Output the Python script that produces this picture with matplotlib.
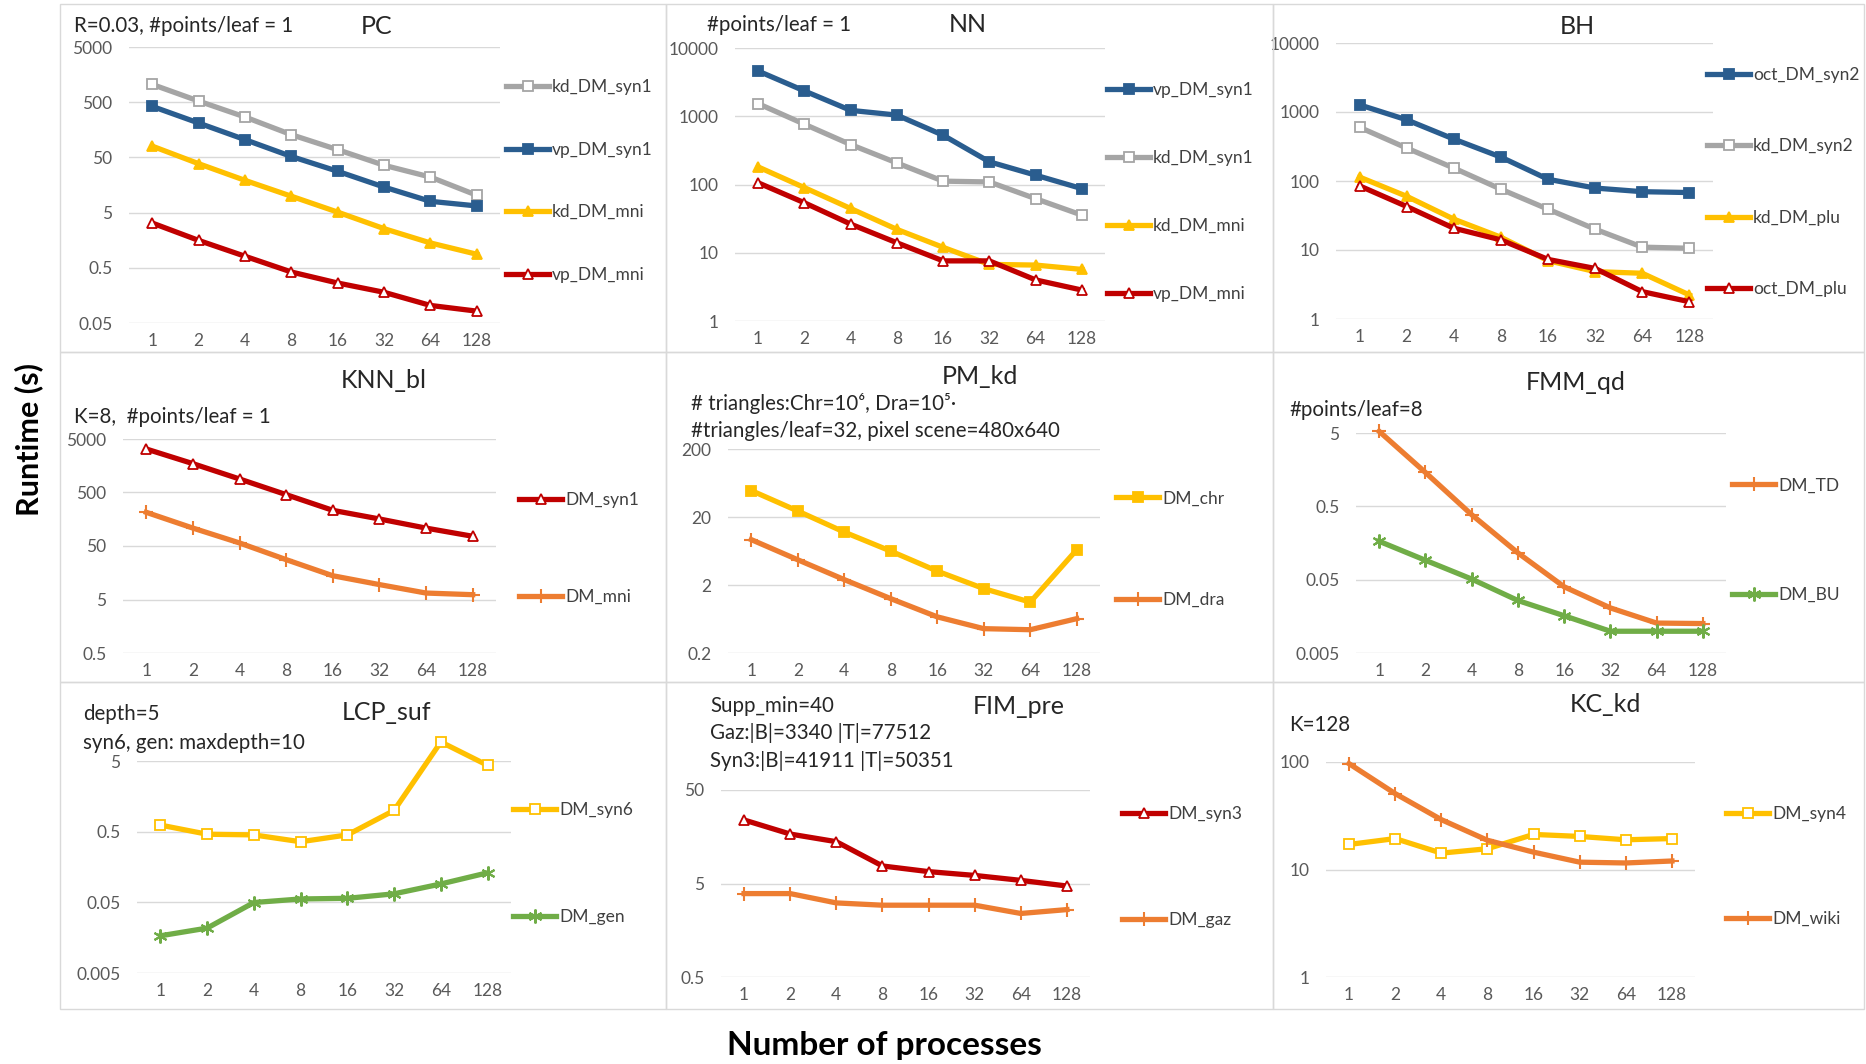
# -*- coding: utf-8 -*-
"""Runtime vs. number of processes, 3x3 panels with log y axes."""

import matplotlib
matplotlib.use('Agg')
import matplotlib.pyplot as plt
from matplotlib.patches import Rectangle
from matplotlib.ticker import NullLocator

plt.rcParams['font.family'] = ['Lato', 'DejaVu Sans']

# Figure size in pixels:
varW = 1866.0
varH = 1064.0
varDpi = 100.0

# Shared category axis:
lstXlbl = ['1', '2', '4', '8', '16', '32', '64', '128']

# --- Data (seconds) ---
pc_kd_syn1 = [1050, 525, 270, 129, 69, 36, 22, 10.3]
pc_vp_syn1 = [420, 210, 105, 52, 28, 14.5, 8.0, 6.6]
pc_kd_mni = [80, 38.5, 19.2, 9.9, 5.1, 2.56, 1.41, 0.88]
pc_vp_mni = [3.24, 1.57, 0.81, 0.42, 0.265, 0.18, 0.104, 0.082]

nn_vp_syn1 = [4600, 2350, 1220, 1040, 527, 215, 137, 87]
nn_kd_syn1 = [1530, 765, 385, 207, 112, 109, 62, 35.6]
nn_kd_mni = [181, 90, 44.5, 22, 12, 6.75, 6.6, 5.7]
nn_vp_mni = [106, 54, 26.3, 14, 7.6, 7.6, 4.0, 2.84]

bh_oct_syn2 = [1270, 770, 405, 222, 106, 79, 70, 68]
bh_kd_syn2 = [600, 300, 154, 76, 39, 20, 11, 10.6]
bh_kd_plu = [114, 60, 28, 15.3, 7.0, 4.86, 4.6, 2.23]
bh_oct_plu = [85, 42.7, 20.7, 14, 7.3, 5.4, 2.49, 1.78]

knn_syn1 = [3250, 1730, 894, 456, 232, 160, 108, 76]
knn_mni = [213, 108, 57, 27.8, 13.9, 9.5, 6.6, 6.15]

pm_chr = [49, 24.5, 12, 6.3, 3.2, 1.77, 1.12, 6.6]
pm_dra = [9.3, 4.7, 2.4, 1.26, 0.68, 0.456, 0.44, 0.64]

fmm_td = [5.27, 1.45, 0.385, 0.116, 0.040, 0.0206, 0.0128, 0.0126]
fmm_bu = [0.167, 0.092, 0.051, 0.026, 0.0161, 0.0099, 0.0099, 0.0099]

lcp_syn6 = [0.62, 0.46, 0.45, 0.36, 0.45, 1.0, 9.3, 4.34]
lcp_gen = [0.0168, 0.0216, 0.0497, 0.0558, 0.057, 0.066, 0.091, 0.131]

fim_syn3 = [23.9, 16.9, 14.0, 7.7, 6.7, 6.1, 5.4, 4.7]
fim_gaz = [3.9, 3.9, 3.1, 2.93, 2.93, 2.93, 2.39, 2.63]

kc_syn4 = [17.1, 19.4, 14.2, 15.6, 21.2, 20.3, 18.9, 19.4]
kc_wiki = [96.5, 50.8, 29.1, 18.7, 14.5, 11.7, 11.5, 12.0]

# Line styles (colour, marker, face colour, marker size, edge width):
dicSty = {
    'gry': ('#A5A5A5', 's', 'white', 7.5, 1.3),
    'blu': ('#2A5D8F', 's', '#2A5D8F', 7.5, 1.3),
    'ylw': ('#FFC000', '^', '#FFC000', 7.5, 1.3),
    'red': ('#C00000', '^', 'white', 7.5, 1.3),
    'ylq': ('#FFC000', 's', '#FFC000', 7.5, 1.3),
    'yho': ('#FFC000', 's', 'white', 7.5, 1.3),
    'org': ('#ED7D31', '+', '#ED7D31', 10, 1.5),
    'grn': ('#70AD47', (6, 2, 0), '#70AD47', 10, 1.5),
}


def fx(x):
    return x / varW


def fy(y):
    return 1.0 - y / varH


# Panel layout in pixels: (x0, x1, ytop, ybot)
lstPnl = [
    dict(box=(129, 500, 47, 323),
         ylim=(0.05, 5000), yt=[0.05, 0.5, 5, 50, 500, 5000],
         ytl=['0.05', '0.5', '5', '50', '500', '5000'],
         srs=[(pc_kd_syn1, 'kd_DM_syn1', 'gry'),
              (pc_vp_syn1, 'vp_DM_syn1', 'blu'),
              (pc_kd_mni, 'kd_DM_mni', 'ylw'),
              (pc_vp_mni, 'vp_DM_mni', 'red')],
         lgd=(506, 80, 282),
         ttl=('PC', 377, 27),
         ann=[('R=0.03, #points/leaf = 1', 74, 26)]),
    dict(box=(735, 1105, 48, 321),
         ylim=(1, 10000), yt=[1, 10, 100, 1000, 10000],
         ytl=['1', '10', '100', '1000', '10000'],
         srs=[(nn_vp_syn1, 'vp_DM_syn1', 'blu'),
              (nn_kd_syn1, 'kd_DM_syn1', 'gry'),
              (nn_kd_mni, 'kd_DM_mni', 'ylw'),
              (nn_vp_mni, 'vp_DM_mni', 'red')],
         lgd=(1107, 83, 301),
         ttl=('NN', 968, 25),
         ann=[('#points/leaf = 1', 707, 25)]),
    dict(box=(1336, 1713, 43, 319),
         ylim=(1, 10000), yt=[1, 10, 100, 1000, 10000],
         ytl=['1', '10', '100', '1000', '10000'],
         srs=[(bh_oct_syn2, 'oct_DM_syn2', 'blu'),
              (bh_kd_syn2, 'kd_DM_syn2', 'gry'),
              (bh_kd_plu, 'kd_DM_plu', 'ylw'),
              (bh_oct_plu, 'oct_DM_plu', 'red')],
         lgd=(1707, 68, 296),
         ttl=('BH', 1577, 27),
         ann=[]),
    dict(box=(123, 496, 439, 653),
         ylim=(0.5, 5000), yt=[0.5, 5, 50, 500, 5000],
         ytl=['0.5', '5', '50', '500', '5000'],
         srs=[(knn_syn1, 'DM_syn1', 'red'),
              (knn_mni, 'DM_mni', 'org')],
         lgd=(519, 498, 599),
         ttl=('KNN_bl', 384, 381),
         ann=[('K=8,  #points/leaf = 1', 74, 417)]),
    dict(box=(728, 1100, 449, 653),
         ylim=(0.2, 200), yt=[0.2, 2, 20, 200],
         ytl=['0.2', '2', '20', '200'],
         srs=[(pm_chr, 'DM_chr', 'ylq'),
              (pm_dra, 'DM_dra', 'org')],
         lgd=(1116, 496, 602),
         ttl=('PM_kd', 980, 377),
         ann=[('# triangles:Chr=10\u2076, Dra=10\u2075\u00b7', 691, 403),
              ('#triangles/leaf=32, pixel scene=480x640', 691, 431)]),
    dict(box=(1356, 1726, 433, 653),
         ylim=(0.005, 5), yt=[0.005, 0.05, 0.5, 5],
         ytl=['0.005', '0.05', '0.5', '5'],
         srs=[(fmm_td, 'DM_TD', 'org'),
              (fmm_bu, 'DM_BU', 'grn')],
         lgd=(1732, 483, 597),
         ttl=('FMM_qd', 1576, 383),
         ann=[('#points/leaf=8', 1289, 410)]),
    dict(box=(137, 511, 761, 973),
         ylim=(0.005, 5), yt=[0.005, 0.05, 0.5, 5],
         ytl=['0.005', '0.05', '0.5', '5'],
         srs=[(lcp_syn6, 'DM_syn6', 'yho'),
              (lcp_gen, 'DM_gen', 'grn')],
         lgd=(513, 808, 919),
         ttl=('LCP_suf', 386, 713),
         ann=[('depth=5', 83, 714),
              ('syn6, gen: maxdepth=10', 83, 743)]),
    dict(box=(721, 1090, 790, 977),
         ylim=(0.5, 50), yt=[0.5, 5, 50],
         ytl=['0.5', '5', '50'],
         srs=[(fim_syn3, 'DM_syn3', 'red'),
              (fim_gaz, 'DM_gaz', 'org')],
         lgd=(1122, 812, 922),
         ttl=('FIM_pre', 1019, 707),
         ann=[('Supp_min=40', 710, 706),
              ('Gaz:|B|=3340 |T|=77512', 710, 733),
              ('Syn3:|B|=41911 |T|=50351', 710, 761)]),
    dict(box=(1326, 1695, 762, 977),
         ylim=(1, 100), yt=[1, 10, 100],
         ytl=['1', '10', '100'],
         srs=[(kc_syn4, 'DM_syn4', 'yho'),
              (kc_wiki, 'DM_wiki', 'org')],
         lgd=(1726, 812, 921),
         ttl=('KC_kd', 1605, 705),
         ann=[('K=128', 1289, 725)]),
]

# Panel frames (pixels): column and row edges
lstColEdg = [60, 666, 1273, 1864]
lstRowEdg = [4, 352, 682, 1009]

# Create figure:
fgr01 = plt.figure(figsize=(varW / varDpi, varH / varDpi), dpi=varDpi)
fgr01.patch.set_facecolor('white')

# Draw light frames around every chart:
for idxR in range(3):
    for idxC in range(3):
        x0 = lstColEdg[idxC]
        x1 = lstColEdg[idxC + 1]
        y0 = lstRowEdg[idxR]
        y1 = lstRowEdg[idxR + 1]
        fgr01.add_artist(Rectangle((fx(x0), fy(y1)), fx(x1 - x0),
                                   (y1 - y0) / varH,
                                   transform=fgr01.transFigure,
                                   fill=False, edgecolor='#D9D9D9',
                                   linewidth=1.0))

vecX = list(range(len(lstXlbl)))
varFntLgd = 12.5

for dicP in lstPnl:
    x0, x1, yt, yb = dicP['box']
    axs = fgr01.add_axes([fx(x0), fy(yb), fx(x1 - x0), (yb - yt) / varH])
    axs.set_facecolor('none')
    axs.set_yscale('log')

    # Plot series:
    for lstY, strLbl, strSty in dicP['srs']:
        strClr, objMrk, strFc, varMs, varMew = dicSty[strSty]
        axs.plot(vecX, lstY, color=strClr, linewidth=3.8,
                 marker=objMrk, markersize=varMs, markerfacecolor=strFc,
                 markeredgecolor=strClr, markeredgewidth=varMew,
                 label=strLbl, clip_on=False, zorder=3)

    axs.set_xlim(-0.5, len(lstXlbl) - 0.5)
    axs.set_ylim(dicP['ylim'])
    axs.set_xticks(vecX)
    axs.set_xticklabels(lstXlbl)
    axs.set_yticks(dicP['yt'])
    axs.set_yticklabels(dicP['ytl'])
    axs.yaxis.set_minor_locator(NullLocator())

    # Reduce framing box:
    for strSpn in ['top', 'right', 'bottom', 'left']:
        axs.spines[strSpn].set_visible(False)
    axs.yaxis.grid(True, color='#D9D9D9', linewidth=1.0)
    axs.set_axisbelow(True)
    axs.tick_params(axis='both', length=0, labelsize=12.5,
                    labelcolor='#595959')
    axs.tick_params(axis='y', pad=12)
    axs.tick_params(axis='x', pad=7)

    # Legend to the right of the plot area:
    xl, ya, yz = dicP['lgd']
    varN = len(dicP['srs'])
    varGap = (yz - ya) / (varN - 1)
    varFntPx = varFntLgd * varDpi / 72.0
    varSpc = (varGap - 1.2 * varFntPx) / varFntPx
    axs.legend(loc='center left',
               bbox_to_anchor=(fx(xl), fy(0.5 * (ya + yz))),
               bbox_transform=fgr01.transFigure,
               frameon=False, fontsize=varFntLgd, labelspacing=varSpc,
               handlelength=2.5, handletextpad=0.15, borderpad=0,
               borderaxespad=0, labelcolor='#404040')

    # Title and notes:
    strT, xt, ytt = dicP['ttl']
    fgr01.text(fx(xt), fy(ytt), strT, fontsize=18, color='#262626',
               ha='center', va='center')
    for strA, xa, yaa in dicP['ann']:
        fgr01.text(fx(xa), fy(yaa), strA, fontsize=14.8, color='#262626',
                   ha='left', va='center')

# Shared axis labels:
fgr01.text(fx(29), fy(440), 'Runtime (s)', fontsize=22, fontweight='bold',
           rotation=90, ha='center', va='center', color='black')
fgr01.text(fx(884), fy(1045), 'Number of processes', fontsize=24,
           fontweight='bold', ha='center', va='center', color='black')

fgr01.savefig('out.png', dpi=varDpi, facecolor='white')
plt.close(fgr01)
